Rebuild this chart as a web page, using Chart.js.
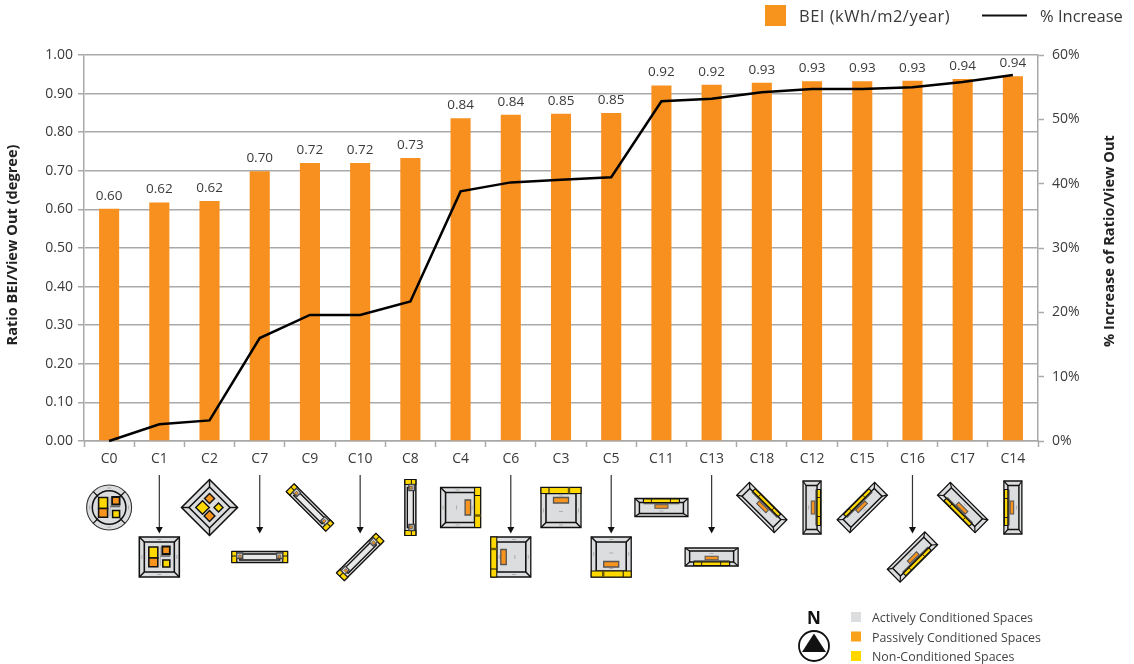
<!DOCTYPE html>
<html><head><meta charset="utf-8">
<style>html,body{margin:0;padding:0;background:#fff}#w{width:1134px;height:664px;position:relative}</style>
<script src="https://cdn.jsdelivr.net/npm/chart.js@4"></script>
</head><body><div id="w"><canvas id="c" width="1134" height="664"></canvas></div>
<script>
const categories = ['C0','C1','C2','C7','C9','C10','C8','C4','C6','C3','C5','C11','C13','C18','C12','C15','C16','C17','C14'];
const ratioValues = [0.602,0.618,0.622,0.699,0.720,0.720,0.733,0.836,0.845,0.848,0.850,0.921,0.923,0.928,0.932,0.932,0.933,0.938,0.945];
const increaseValues = [0,2.6,3.2,16.0,19.6,19.6,21.7,38.8,40.2,40.6,41.0,52.8,53.2,54.2,54.7,54.7,55.0,55.8,56.9];
const barTitle = 'BEI (kWh/m2/year)';
const lineTitle = '% Increase';
const leftTitle = 'Ratio BEI/View Out (degree)';
const rightTitle = '% Increase of Ratio/View Out';
const spaceLegend = ['Actively Conditioned Spaces','Passively Conditioned Spaces','Non-Conditioned Spaces'];

const FONT = '"Open Sans", "Noto Sans", sans-serif';
const GREY='#dcddde', ORANGE='#f7941d', YELLOW='#ffd800', INK='#111', TXT='#3a3a3a', GRID='#a9a9a9';
const LW=1.3;

// plan thumbnails, one per category
const plans = {
 C0:{k:'round',row:0}, C1:{k:'square',row:1}, C2:{k:'diamond',row:0},
 C7:{k:'slim',row:1,a:0}, C9:{k:'slim',row:0,a:45}, C10:{k:'slim',row:1,a:-45}, C8:{k:'slim',row:0,a:90},
 C4:{k:'core',row:0,a:90}, C6:{k:'core',row:1,a:-90}, C3:{k:'core',row:0,a:0}, C5:{k:'core',row:1,a:180},
 C11:{k:'bar',row:0,a:0}, C13:{k:'bar',row:1,a:0,flip:1}, C18:{k:'bar',row:0,a:45}, C12:{k:'bar',row:0,a:90},
 C15:{k:'bar',row:0,a:-45}, C16:{k:'bar',row:1,a:-45,flip:1}, C17:{k:'bar',row:0,a:45,flip:1}, C14:{k:'bar',row:0,a:-90}
};

function box(x,x0,y0,x1,y1,fill,lw,stroke){
  x.beginPath(); x.rect(x0,y0,x1-x0,y1-y0);
  if(fill){x.fillStyle=fill;x.fill();}
  if(lw){x.lineWidth=lw*LW;x.strokeStyle=stroke||INK;x.stroke();}
}
function seg(x,a,b,c,d,lw,col){x.beginPath();x.moveTo(a,b);x.lineTo(c,d);x.lineWidth=lw||1;x.strokeStyle=col||INK;x.stroke();}
function dash(x,cx,cy,vert){seg(x,vert?cx:cx-2,vert?cy-2:cy,vert?cx:cx+2,vert?cy+2:cy,0.7,'#9a9a9a');}
function rooms(x){
  box(x,-10.5,-10,-1.5,1,YELLOW,1.2);
  box(x,-10.5,1,-1.5,9.8,ORANGE,1.2);
  box(x,3,-10.5,10.5,-3,ORANGE,1.4);
  box(x,3.5,3,10.5,10,YELLOW,1.2);
  seg(x,1,-1,11,-1,1.6,'#666');
  seg(x,1,-10,1,9,0.8,'#999');
}
function drawSquare(x){
  box(x,-20,-20,20,20,GREY,1.2);
  box(x,-15,-15,15,15,GREY,1.2);
  [[-20,-20,-15,-15],[20,-20,15,-15],[-20,20,-15,15],[20,20,15,15]].forEach(l=>seg(x,...l,1.5));
  dash(x,0,-17.5); dash(x,0,17.5); dash(x,-17.5,0,1); dash(x,17.5,0,1);
  rooms(x);
}
function drawRound(x){
  x.beginPath();x.arc(0,0,22.5,0,Math.PI*2);x.fillStyle=GREY;x.fill();x.lineWidth=1.1;x.strokeStyle='#333';x.stroke();
  x.beginPath();x.arc(0,0,16.8,0,Math.PI*2);x.lineWidth=1.5;x.strokeStyle=INK;x.stroke();
  const d=15.9;[[-1,-1],[1,-1],[-1,1],[1,1]].forEach(s=>seg(x,s[0]*d,s[1]*d,s[0]*11,s[1]*11,1.2));
  dash(x,0,-19.5); dash(x,0,19.5); dash(x,-19.5,0,1); dash(x,19.5,0,1);
  rooms(x);
}
function dmd(x,cx,cy,r,fill,lw){x.beginPath();x.moveTo(cx,cy-r);x.lineTo(cx+r,cy);x.lineTo(cx,cy+r);x.lineTo(cx-r,cy);x.closePath();
  if(fill){x.fillStyle=fill;x.fill();}x.lineWidth=(lw||1.1)*LW;x.strokeStyle=INK;x.stroke();}
function drawDiamond(x){
  dmd(x,0,0,28,GREY,1.2); dmd(x,0,0,20.5,GREY,1.2);
  seg(x,0,-28,0,-20.5,1.4);seg(x,0,28,0,20.5,1.4);seg(x,-28,0,-20.5,0,1.4);seg(x,28,0,20.5,0,1.4);
  dmd(x,-7,0,6.8,YELLOW); dmd(x,0,-9,5,ORANGE); dmd(x,9,0,4.5,YELLOW); dmd(x,0,8.5,5.4,ORANGE);
}
function drawCore(x){
  box(x,-20,-20,20,20,GREY,1);
  box(x,-15,-14,15,15,GREY,1.2);
  [[-20,20,-15,15],[20,20,15,15]].forEach(l=>seg(x,...l,1.5));
  seg(x,-15,-14.5,15,-14.5,2,'#666');
  box(x,-20,-20,20,-14,YELLOW,0.8);
  seg(x,-12,-20,-12,-14,1);seg(x,8,-20,8,-14,2.4,'#6b5b00');
  box(x,-7.5,-10,7.5,-4.5,ORANGE,1,'#555');
  dash(x,0,-11.5); dash(x,0,17.5); dash(x,0,4); dash(x,-17.5,3,1); dash(x,17.5,3,1);
}
function drawBar(x,flip){
  if(flip) x.scale(1,-1);
  box(x,-26.5,-9,26.5,9,GREY,1);
  box(x,-22,-5,22,6,GREY,1.1);
  [[-26.5,9,-22,6],[26.5,9,22,6],[-26.5,-9,-22,-5],[26.5,-9,22,-5]].forEach(l=>seg(x,...l,1.2));
  seg(x,-18,-4.2,18,-4.2,1.8,'#555');
  box(x,-18,-8.5,18,-5,YELLOW,0.9);
  seg(x,-10,-8.5,-10,-5,0.9);seg(x,9,-8.5,9,-5,0.9);
  box(x,-6.5,-2.8,6.5,0.8,ORANGE,0.8,'#555');
  dash(x,0,3.5);
}
function drawSlim(x){
  box(x,-27.5,-5.5,27.5,5.5,GREY,1.1);
  box(x,-20,-3,20,3,'#e8e8e8',1);
  seg(x,-24,-3.5,-20,-3,1);seg(x,24,-3.5,20,-3,1);
  [-1,1].forEach(s=>{
    x.save();x.scale(s,1);
    box(x,-28,-5.5,-23,5.5,YELLOW,0.9);
    seg(x,-28,-1,-23,-1,1);
    box(x,-23,-4,-17,1.5,GREY,1,'#444');
    box(x,-21,-2,-18.5,1,ORANGE,0.6,'#555');
    x.restore();
  });
}
function drawPlan(x,cx,cy,p){
  x.save();x.translate(cx,cy);x.rotate((p.a||0)*Math.PI/180);x.lineJoin='miter';
  ({round:drawRound,square:drawSquare,diamond:drawDiamond,core:drawCore,bar:drawBar,slim:drawSlim})[p.k](x,p.flip);
  x.restore();
}
function sideTitle(x,text,cx,cy){
  x.save();x.translate(cx,cy);x.rotate(-Math.PI/2);
  x.font='bold 14.6px '+FONT;x.fillStyle='#222';x.textAlign='center';x.textBaseline='middle';
  x.fillText(text,0,0);x.restore();
}

const decorations = {
  id:'decorations',
  afterDatasetsDraw(chart){
    const x=chart.ctx;
    x.save();
    x.font='13.5px '+FONT; x.fillStyle=TXT; x.textAlign='center'; x.textBaseline='alphabetic';
    chart.getDatasetMeta(0).data.forEach((el,i)=>x.fillText(ratioValues[i].toFixed(2),el.x,el.y-9));
    x.restore();
  },
  afterDraw(chart){
    const x=chart.ctx, sx=chart.scales.x;
    x.save();
    sideTitle(x,leftTitle,13,245);
    sideTitle(x,rightTitle,1110,241);
    categories.forEach((c,i)=>{
      const px=sx.getPixelForValue(i), p=plans[c];
      const rowY=[507.5,557][p.row];
      if(p.row){
        seg(x,px,475,px,529,1.2,'#333');
        x.beginPath();x.moveTo(px-3.5,527);x.lineTo(px+3.5,527);x.lineTo(px,533.5);x.closePath();x.fillStyle='#111';x.fill();
      }
      drawPlan(x,px,rowY,p);
    });
    // top legend
    x.textBaseline='middle';x.textAlign='left';
    x.fillStyle=ORANGE;x.fillRect(765,5,21,21);
    x.font='16.5px '+FONT;x.fillStyle=TXT;
    x.letterSpacing='0.5px';
    x.fillText(barTitle,799,17);
    x.letterSpacing='0px';
    seg(x,982,15.5,1027,15.5,2.2,'#111');
    x.fillText(lineTitle,1040,17);
    // space legend
    x.font='12.4px '+FONT;
    [GREY,'#f9a11b',YELLOW].forEach((col,i)=>{
      const y=[617,636.5,656][i];
      x.fillStyle=col;x.fillRect(851,y-5,10,10);
      x.fillStyle='#444';x.fillText(spaceLegend[i],872,y+1.5);
    });
    // north mark
    x.textAlign='center';x.fillStyle='#111';x.font='bold 17px '+FONT;x.fillText('N',814,619);
    x.beginPath();x.arc(814,646,15,0,Math.PI*2);x.lineWidth=1.8;x.strokeStyle='#111';x.stroke();
    x.beginPath();x.moveTo(814,633.5);x.lineTo(826,652);x.lineTo(802,652);x.closePath();x.fillStyle='#111';x.fill();
    x.restore();
  }
};

new Chart(document.getElementById('c'),{
  data:{labels:categories,datasets:[
    {type:'bar',label:barTitle,data:ratioValues,yAxisID:'y',backgroundColor:'#f7901e',barPercentage:0.4,categoryPercentage:1,order:2},
    {type:'line',label:lineTitle,data:increaseValues,yAxisID:'y1',borderColor:'#000',borderWidth:2.5,pointRadius:0,tension:0,order:1,clip:false}
  ]},
  plugins:[decorations],
  options:{
    responsive:false,animation:false,
    layout:{padding:{top:55,left:0,right:0,bottom:0}},
    plugins:{legend:{display:false},tooltip:{enabled:false}},
    scales:{
      x:{afterFit(s){s.height=223;},
         grid:{drawOnChartArea:false,tickLength:6,tickColor:GRID,tickWidth:1.5,offset:true},
         border:{color:GRID,width:1.5},
         ticks:{color:TXT,font:{family:FONT,size:14},padding:4,maxRotation:0,autoSkip:false}},
      y:{position:'left',min:0,max:1,afterFit(s){s.width=84;},
         grid:{color:GRID,lineWidth:1.5,tickLength:6,tickColor:GRID},
         border:{color:GRID,width:1.5},
         ticks:{stepSize:0.1,color:TXT,font:{family:FONT,size:14},padding:5,callback:v=>v.toFixed(2)}},
      y1:{position:'right',min:0,max:60,afterFit(s){s.width=96;},
         grid:{drawOnChartArea:false,tickLength:6,tickColor:GRID,tickWidth:1.5},
         border:{color:GRID,width:1.5},
         ticks:{stepSize:10,color:TXT,font:{family:FONT,size:14},padding:8,callback:v=>v+'%'}}
    }
  }
});
</script></body></html>
